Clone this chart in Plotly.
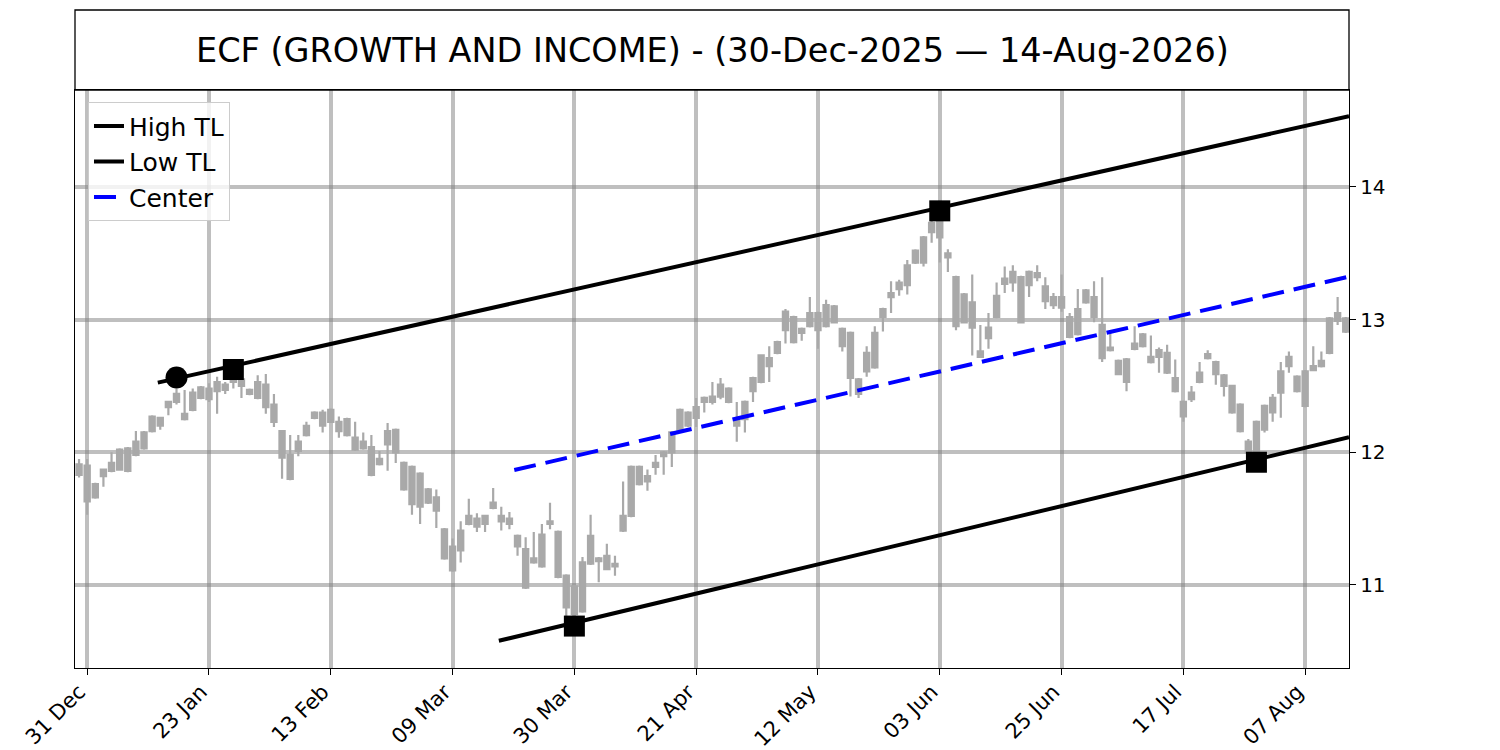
import plotly.graph_objects as go

# ---- data ----
tick_labels = ["31 Dec", "23 Jan", "13 Feb", "09 Mar", "30 Mar", "21 Apr",
               "12 May", "03 Jun", "25 Jun", "17 Jul", "07 Aug"]
tick_index = [1, 16, 31, 46, 61, 76, 91, 106, 121, 136, 151]

# body top, body bottom, high, low per trading day (30-Dec-2025 .. 14-Aug-2026)
body_top = [11.91, 11.90, 11.76, 11.87, 11.92, 12.02, 12.03, 12.08, 12.15, 12.27,
            12.26, 12.38, 12.44, 12.29, 12.45, 12.49, 12.48, 12.53, 12.51, 12.57,
            12.55, 12.47, 12.53, 12.51, 12.36, 12.16, 11.98, 12.08, 12.20, 12.30,
            12.30, 12.32, 12.23, 12.25, 12.11, 12.08, 12.04, 11.95, 12.16, 12.17,
            11.92, 11.89, 11.84, 11.72, 11.66, 11.42, 11.29, 11.41, 11.52, 11.50,
            11.52, 11.62, 11.52, 11.50, 11.37, 11.27, 11.20, 11.38, 11.48, 11.40,
            11.07, 10.99, 11.17, 11.37, 11.20, 11.22, 11.16, 11.52, 11.89, 11.89,
            11.82, 11.92, 12.00, 12.15, 12.32, 12.30, 12.34, 12.41, 12.42, 12.51,
            12.48, 12.24, 12.38, 12.56, 12.73, 12.71, 12.83, 13.06, 13.02, 12.93,
            13.05, 13.05, 13.11, 13.10, 12.93, 12.90, 12.55, 12.75, 12.90, 13.08,
            13.20, 13.28, 13.41, 13.52, 13.62, 13.73, 13.74, 13.50, 13.32, 13.19,
            13.13, 12.76, 12.94, 13.18, 13.31, 13.36, 13.32, 13.36, 13.35, 13.25,
            13.17, 13.17, 13.02, 13.08, 13.22, 13.17, 12.96, 12.79, 12.69, 12.70,
            12.82, 12.89, 12.72, 12.77, 12.75, 12.56, 12.38, 12.45, 12.60, 12.74,
            12.68, 12.58, 12.50, 12.36, 12.08, 12.23, 12.35, 12.41, 12.61, 12.72,
            12.57, 12.61, 12.65, 12.69, 13.01, 13.05, 13.01]
body_bottom = [11.83, 11.63, 11.66, 11.82, 11.86, 11.87, 11.86, 11.98, 12.03, 12.16,
               12.20, 12.34, 12.38, 12.25, 12.32, 12.41, 12.40, 12.46, 12.47, 12.53,
               12.50, 12.44, 12.41, 12.34, 12.23, 11.96, 11.80, 12.01, 12.13, 12.26,
               12.20, 12.23, 12.16, 12.13, 12.02, 12.03, 11.83, 11.91, 12.06, 12.00,
               11.72, 11.61, 11.59, 11.62, 11.56, 11.20, 11.11, 11.26, 11.46, 11.44,
               11.46, 11.58, 11.48, 11.46, 11.29, 10.98, 11.17, 11.14, 11.46, 11.06,
               10.83, 10.78, 10.80, 11.16, 11.18, 11.12, 11.14, 11.41, 11.52, 11.76,
               11.78, 11.89, 11.97, 12.00, 12.17, 12.20, 12.26, 12.38, 12.38, 12.42,
               12.38, 12.20, 12.25, 12.46, 12.53, 12.65, 12.75, 12.92, 12.83, 12.90,
               12.95, 12.92, 12.95, 12.98, 12.80, 12.56, 12.44, 12.61, 12.64, 13.02,
               13.17, 13.23, 13.26, 13.43, 13.43, 13.66, 13.62, 13.47, 12.95, 12.98,
               12.94, 12.72, 12.86, 13.02, 13.27, 13.28, 12.98, 13.26, 13.32, 13.14,
               13.11, 13.09, 12.87, 12.89, 13.13, 13.02, 12.71, 12.77, 12.59, 12.53,
               12.78, 12.80, 12.68, 12.72, 12.60, 12.46, 12.27, 12.40, 12.53, 12.71,
               12.59, 12.50, 12.30, 12.16, 12.00, 12.00, 12.17, 12.30, 12.45, 12.65,
               12.46, 12.35, 12.62, 12.65, 12.75, 12.99, 12.91]
high = [11.95, 11.95, 11.77, 11.87, 12.00, 12.03, 12.04, 12.16, 12.16, 12.28,
        12.26, 12.38, 12.48, 12.47, 12.48, 12.50, 12.52, 12.57, 12.53, 12.60,
        12.58, 12.48, 12.58, 12.59, 12.44, 12.16, 12.13, 12.13, 12.23, 12.31,
        12.32, 12.33, 12.27, 12.26, 12.23, 12.15, 12.13, 12.01, 12.22, 12.18,
        11.93, 11.90, 11.85, 11.73, 11.72, 11.43, 11.35, 11.48, 11.65, 11.54,
        11.53, 11.73, 11.59, 11.55, 11.38, 11.36, 11.40, 11.46, 11.62, 11.41,
        11.08, 11.00, 11.21, 11.53, 11.21, 11.31, 11.22, 11.78, 11.90, 11.90,
        11.87, 11.98, 12.01, 12.16, 12.33, 12.31, 12.41, 12.42, 12.53, 12.56,
        12.49, 12.38, 12.39, 12.57, 12.74, 12.80, 12.84, 13.08, 13.03, 12.94,
        13.17, 13.06, 13.15, 13.11, 12.94, 12.91, 12.56, 12.80, 12.95, 13.09,
        13.29, 13.30, 13.45, 13.53, 13.63, 13.80, 13.84, 13.53, 13.33, 13.20,
        13.34, 12.96, 13.05, 13.28, 13.40, 13.41, 13.33, 13.37, 13.41, 13.32,
        13.20, 13.34, 13.05, 13.23, 13.23, 13.29, 13.32, 12.90, 12.70, 12.71,
        12.95, 12.90, 12.88, 12.79, 12.81, 12.70, 12.39, 12.50, 12.68, 12.77,
        12.69, 12.59, 12.51, 12.37, 12.10, 12.24, 12.36, 12.44, 12.68, 12.76,
        12.58, 12.62, 12.80, 12.76, 13.02, 13.17, 13.02]
low = [11.81, 11.53, 11.65, 11.74, 11.85, 11.86, 11.85, 11.97, 12.02, 12.15,
       12.17, 12.28, 12.36, 12.24, 12.31, 12.40, 12.38, 12.29, 12.44, 12.48,
       12.41, 12.43, 12.40, 12.29, 12.19, 11.80, 11.79, 11.97, 12.12, 12.25,
       12.15, 12.22, 12.11, 12.12, 12.01, 12.02, 11.82, 11.90, 11.86, 11.92,
       11.71, 11.53, 11.46, 11.61, 11.43, 11.19, 11.10, 11.17, 11.45, 11.40,
       11.40, 11.57, 11.41, 11.42, 11.22, 10.97, 11.16, 11.13, 11.42, 11.05,
       10.76, 10.76, 10.79, 11.15, 11.02, 11.11, 11.07, 11.40, 11.51, 11.75,
       11.71, 11.83, 11.83, 11.89, 12.16, 12.19, 12.19, 12.30, 12.36, 12.40,
       12.37, 12.08, 12.15, 12.38, 12.52, 12.53, 12.74, 12.82, 12.82, 12.84,
       12.94, 12.78, 12.94, 12.97, 12.76, 12.42, 12.41, 12.57, 12.63, 12.91,
       13.05, 13.18, 13.19, 13.42, 13.40, 13.58, 13.43, 13.36, 12.92, 12.97,
       12.73, 12.71, 12.78, 13.01, 13.20, 13.21, 12.97, 13.17, 13.29, 13.08,
       13.08, 13.06, 12.86, 12.88, 13.12, 12.98, 12.68, 12.76, 12.58, 12.46,
       12.77, 12.79, 12.67, 12.60, 12.59, 12.45, 12.23, 12.38, 12.52, 12.70,
       12.51, 12.42, 12.29, 12.15, 11.95, 11.92, 12.15, 12.23, 12.26, 12.60,
       12.45, 12.34, 12.61, 12.64, 12.74, 12.96, 12.90]

# trend-line anchor points (bar index, price)
high_tl_x = [9.7, 156.4]
high_tl_y = [12.525, 14.534]
low_tl_x = [51.7, 156.4]
low_tl_y = [10.579, 12.113]
center_x = [53.6, 156.4]
center_y = [11.866, 13.324]

pivot_x = [19, 106, 61, 145]
pivot_y = [12.624, 13.82, 10.69, 11.925]
circle_x = [12]
circle_y = [12.564]

# ---- figure ----
n = len(body_top)
xs = list(range(n))
# alternate open/close so the body spans top..bottom
opens = [body_bottom[i] if i % 2 == 0 else body_top[i] for i in range(n)]
closes = [body_top[i] if i % 2 == 0 else body_bottom[i] for i in range(n)]

candle_col = "#a9a9a9"
fig = go.Figure()
fig.add_trace(go.Candlestick(
    x=xs, open=opens, high=high, low=low, close=closes,
    increasing=dict(line=dict(color=candle_col, width=2.2), fillcolor=candle_col),
    decreasing=dict(line=dict(color=candle_col, width=2.2), fillcolor=candle_col),
    whiskerwidth=0, showlegend=False, hoverinfo="skip"))

fig.add_trace(go.Scatter(x=high_tl_x, y=high_tl_y, mode="lines", name="High TL",
                         line=dict(color="black", width=4)))
fig.add_trace(go.Scatter(x=low_tl_x, y=low_tl_y, mode="lines", name="Low TL",
                         line=dict(color="black", width=4)))
fig.add_trace(go.Scatter(x=center_x, y=center_y, mode="lines", name="Center",
                         line=dict(color="blue", width=4, dash="22px,10px")))
fig.add_trace(go.Scatter(x=pivot_x, y=pivot_y, mode="markers", showlegend=False,
                         marker=dict(symbol="square", size=21, color="black")))
fig.add_trace(go.Scatter(x=circle_x, y=circle_y, mode="markers", showlegend=False,
                         marker=dict(symbol="circle", size=22, color="black")))

grid_col = "rgba(128,128,128,0.5)"
fig.update_layout(
    width=1492, height=742,
    margin=dict(l=67, r=151, t=82, b=82, autoexpand=False),
    boxgap=0.2, boxgroupgap=0.2,
    paper_bgcolor="white", plot_bgcolor="white",
    font=dict(family="DejaVu Sans", size=20, color="black"),
    xaxis=dict(range=[-0.5, 156.4], tickmode="array", tickvals=tick_index,
               ticktext=tick_labels, tickangle=-45, showgrid=True,
               gridcolor=grid_col, gridwidth=4, zeroline=False, automargin=False,
               showline=True, mirror=True, linecolor="black", linewidth=1.3,
               ticks="outside", ticklen=6, tickwidth=1.3, tickcolor="black",
               ticklabelshift=-8, ticklabelstandoff=-4,
               rangeslider=dict(visible=False), tickfont=dict(size=21)),
    yaxis=dict(range=[10.374, 14.731], side="right", tickmode="array",
               tickvals=[11, 12, 13, 14], ticktext=["11", "12", "13", "14"],
               showgrid=True, gridcolor=grid_col, gridwidth=4, zeroline=False,
               automargin=False,
               showline=True, mirror=True, linecolor="black", linewidth=1.3,
               ticks="outside", ticklen=6, tickwidth=1.3, tickcolor="black",
               tickfont=dict(size=20)),
    legend=dict(x=0.0102, y=0.979, xanchor="left", yanchor="top",
                bgcolor="rgba(255,255,255,0.8)", bordercolor="#cccccc",
                borderwidth=1, font=dict(size=25), itemwidth=30),
    showlegend=True,
    shapes=[dict(type="rect", xref="paper", yref="paper", x0=0, x1=1,
                 y0=1, y1=1.1384, line=dict(color="black", width=1.3))],
    annotations=[dict(text="ECF (GROWTH AND INCOME) - (30-Dec-2025 \u2014 14-Aug-2026)",
                      xref="paper", yref="paper", x=0.5, y=1.0692,
                      xanchor="center", yanchor="middle", showarrow=False,
                      font=dict(size=33.5, family="DejaVu Sans"))],
)

fig.write_html("out.html")
